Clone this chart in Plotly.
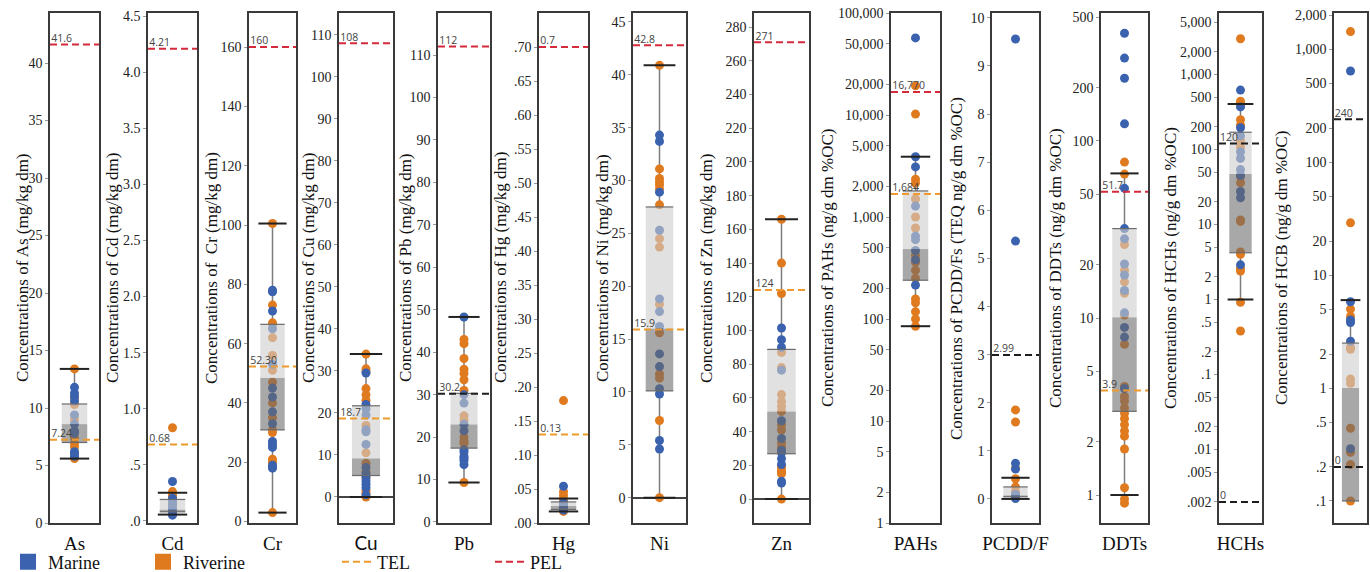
import plotly.graph_objects as go

# ---------------- data ----------------
CATEGORIES = ["As", "Cd", "Cr", "Cu", "Pb", "Hg", "Ni", "Zn", "PAHs", "PCDD/F", "DDTs", "HCHs", "HCB"]
Y_TITLES = [
    "Concentrations of As (mg/kg dm)",
    "Concentrations of Cd (mg/kg dm)",
    "Concentrations of  Cr (mg/kg dm)",
    "Concentrations of Cu (mg/kg dm)",
    "Concentrations of Pb (mg/kg dm)",
    "Concentrations of Hg (mg/kg dm)",
    "Concentrations of Ni (mg/kg dm)",
    "Concentrations of Zn (mg/kg dm)",
    "Concentrations of PAHs (ng/g dm %OC)",
    "Concentrations of PCDD/Fs (TEQ ng/g dm %OC)",
    "Concentrations of DDTs (ng/g dm %OC)",
    "Concentrations of HCHs (ng/g dm %OC)",
    "Concentrations of HCB (ng/g dm %OC)",
]

# box statistics: [lower whisker, Q1, median, Q3, upper whisker]
AS_BOX = [5.6, 7.0, 8.6, 10.35, 13.4]
CD_BOX = [0.055, 0.08, 0.10, 0.19, 0.25]
CR_BOX = [3, 30.9, 48.5, 66.5, 100.5]
CU_BOX = [0, 5.1, 9.2, 21.7, 34]
PB_BOX = [9.3, 17.4, 23, 30.3, 48.3]
HG_BOX = [0.017, 0.020, 0.025, 0.031, 0.036]
NI_BOX = [0, 10.1, 16.0, 27.5, 40.9]
ZN_BOX = [0, 26.9, 52, 88.8, 166]
PAH_BOX = [85, 240, 485, 1800, 3900]
PCDD_BOX = [0, 0.045, 0.076, 0.25, 0.44]
DDT_BOX = [1.0, 2.97, 10.1, 32, 65.6]
HCH_BOX = [1.0, 4.2, 47, 170, 404]
HCB_BOX = [None, 0.1, 1.0, 2.5, 6.0]

# sample values
AS_MARINE = [11.8, 11.3, 11.0, 10.6, 9.4, 8.6, 8.0, 7.8, 6.2, 6.0, 5.8]
AS_RIVERINE = [13.4, 10.9, 10.3, 9.0, 7.4, 6.9, 6.6, 5.6]
CD_MARINE = [0.35, 0.20, 0.17, 0.14, 0.11, 0.08, 0.05]
CD_RIVERINE = [0.83, 0.26, 0.23, 0.21, 0.15, 0.12, 0.06]
CR_MARINE = [78, 77.5, 71, 65, 53, 45, 42, 37, 33, 27, 26, 25, 19, 18.5, 18]
CR_RIVERINE = [100.5, 73, 67, 66.5, 62, 56, 51, 47, 40, 35, 31, 30, 21, 20, 3]
CU_MARINE = [29.5, 22, 21, 19.5, 16, 15.5, 12.5, 7, 5.5, 4.8, 3.8, 3, 2.2, 0.5]
CU_RIVERINE = [34, 30.5, 29.8, 25.8, 24.3, 23, 17, 10.5, 8, 6, 4.5, 1.5, 0.8, 0]
PB_MARINE = [48.3, 30, 28, 23, 21.5, 17, 16.5, 15.5, 15, 14.5, 13.5]
PB_RIVERINE = [43, 42, 38.5, 36, 35, 33.5, 31, 25, 24, 20, 19, 18.5, 9.3]
HG_MARINE = [0.054, 0.030, 0.028, 0.024, 0.022, 0.020, 0.019]
HG_RIVERINE = [0.18, 0.046, 0.040, 0.034, 0.025, 0.017]
NI_MARINE = [34.3, 33.7, 28.9, 25.3, 18.8, 17.6, 16.2, 13.6, 12.4, 10.3, 9.8, 5.4, 4.6]
NI_RIVERINE = [40.9, 31.1, 30.2, 29.9, 29.6, 29.2, 27.7, 24.5, 23.7, 18.3, 15.6, 11.7, 11.3, 7.3, 0]
ZN_MARINE = [101.5, 94.5, 90, 76.5, 46.5, 36, 29, 27.5, 24, 20.5, 10.5, 9.5]
ZN_RIVERINE = [166, 140, 122, 87, 78, 62, 58, 55, 52, 44, 41, 33.5, 31, 19, 17, 16, 15, 0]
PAH_MARINE = [57000, 3900, 3100, 1280, 650, 600, 470, 380, 215]
PAH_RIVERINE = [19300, 10200, 2350, 2150, 1500, 1000, 780, 420, 360, 300, 250, 157, 144, 118, 100, 85]
PCDD_MARINE = [9.56, 5.36, 0.74, 0.62, 0.10, 0.05, 0.01]
PCDD_RIVERINE = [1.85, 1.60, 0.64, 0.42, 0.25, 0.15]
DDT_MARINE = [406, 294, 226, 125, 54, 32, 28, 20.2, 17.5, 14.3, 10.7, 8.85, 7.8, 4.0]
DDT_RIVERINE = [76, 65, 26, 18.6, 16, 13.8, 10.4, 7.1, 4.1, 3.6, 3.4, 3.1, 2.9, 2.7, 2.5, 2.3, 2.15, 1.82, 1.1, 0.95, 0.9]
HCH_MARINE = [620, 370, 195, 152, 93, 76, 54, 45, 27.5, 22.7, 2.9]
HCH_RIVERINE = [3000, 440, 404, 250, 213, 132, 107, 44, 36, 11.5, 11, 4.3, 4.0, 2.6, 2.4, 0.92, 0.38]
HCB_MARINE = [640, 5.8, 4.0, 3.8, 2.6, 0.29]
HCB_RIVERINE = [1430, 29, 5.0, 4.3, 2.3, 2.2, 1.2, 1.1, 0.44, 0.27, 0.21, 0.1]

# guideline values: (kind, value, label)
AS_GUIDES = [("TEL", 7.24, "7.24"), ("PEL", 41.6, "41.6")]
CD_GUIDES = [("TEL", 0.68, "0.68"), ("PEL", 4.21, "4.21")]
CR_GUIDES = [("TEL", 52.30, "52.30"), ("PEL", 160, "160")]
CU_GUIDES = [("TEL", 18.7, "18.7"), ("PEL", 108, "108")]
PB_GUIDES = [("OTHER", 30.2, "30.2"), ("PEL", 112, "112")]
HG_GUIDES = [("TEL", 0.13, "0.13"), ("PEL", 0.7, "0.7")]
NI_GUIDES = [("TEL", 15.9, "15.9"), ("PEL", 42.8, "42.8")]
ZN_GUIDES = [("TEL", 124, "124"), ("PEL", 271, "271")]
PAH_GUIDES = [("TEL", 1684, "1,684"), ("PEL", 16770, "16,770")]
PCDD_GUIDES = [("OTHER", 2.99, "2.99")]
DDT_GUIDES = [("TEL", 3.9, "3.9"), ("PEL", 51.7, "51.7")]
HCH_GUIDES = [("OTHER", 120, "120"), ("OTHER", 0.002, "0")]
HCB_GUIDES = [("OTHER", 240, "240"), ("OTHER", 0.2, "0")]

# tick values and labels
AS_TICKS = [0, 5, 10, 15, 20, 25, 30, 35, 40]
AS_TICKTEXT = ["0", "5", "10", "15", "20", "25", "30", "35", "40"]
CD_TICKS = [0, 0.5, 1.0, 1.5, 2.0, 2.5, 3.0, 3.5, 4.0, 4.5]
CD_TICKTEXT = [".0", ".5", "1.0", "1.5", "2.0", "2.5", "3.0", "3.5", "4.0", "4.5"]
CR_TICKS = [0, 20, 40, 60, 80, 100, 120, 140, 160]
CR_TICKTEXT = ["0", "20", "40", "60", "80", "100", "120", "140", "160"]
CU_TICKS = [0, 10, 20, 30, 40, 50, 60, 70, 80, 90, 100, 110]
CU_TICKTEXT = ["0", "10", "20", "30", "40", "50", "60", "70", "80", "90", "100", "110"]
PB_TICKS = CU_TICKS
PB_TICKTEXT = CU_TICKTEXT
HG_TICKS = [0, 0.05, 0.10, 0.15, 0.20, 0.25, 0.30, 0.35, 0.40, 0.45, 0.50, 0.55, 0.60, 0.65, 0.70]
HG_TICKTEXT = [".00", ".05", ".10", ".15", ".20", ".25", ".30", ".35", ".40", ".45", ".50", ".55", ".60", ".65", ".70"]
NI_TICKS = [0, 5, 10, 15, 20, 25, 30, 35, 40, 45]
NI_TICKTEXT = ["0", "5", "10", "15", "20", "25", "30", "35", "40", "45"]
ZN_TICKS = [0, 20, 40, 60, 80, 100, 120, 140, 160, 180, 200, 220, 240, 260, 280]
ZN_TICKTEXT = ["0", "20", "40", "60", "80", "100", "120", "140", "160", "180", "200", "220", "240", "260", "280"]
PAH_TICKS = [1, 2, 5, 10, 20, 50, 100, 200, 500, 1000, 2000, 5000, 10000, 20000, 50000, 100000]
PAH_TICKTEXT = ["1", "2", "5", "10", "20", "50", "100", "200", "500", "1,000", "2,000", "5,000",
                "10,000", "20,000", "50,000", "100,000"]
PCDD_TICKS = [0, 1, 2, 3, 4, 5, 6, 7, 8, 9, 10]
PCDD_TICKTEXT = ["0", "1", "2", "3", "4", "5", "6", "7", "8", "9", "10"]
DDT_TICKS = [1, 2, 5, 10, 20, 50, 100, 200, 500]
DDT_TICKTEXT = ["1", "2", "5", "10", "20", "50", "100", "200", "500"]
HCH_TICKS = [0.002, 0.005, 0.01, 0.02, 0.05, 0.1, 0.2, 0.5, 1, 2, 5, 10, 20, 50, 100, 200, 500, 1000, 2000, 5000]
HCH_TICKTEXT = [".002", ".005", ".01", ".02", ".05", ".1", ".2", ".5", "1", "2", "5", "10", "20", "50",
                "100", "200", "500", "1,000", "2,000", "5,000"]
HCB_TICKS = [0.1, 0.2, 0.5, 1, 2, 5, 10, 20, 50, 100, 200, 500, 1000, 2000]
HCB_TICKTEXT = [".1", ".2", ".5", "1", "2", "5", "10", "20", "50", "100", "200", "500", "1,000", "2,000"]

BOXES = [AS_BOX, CD_BOX, CR_BOX, CU_BOX, PB_BOX, HG_BOX, NI_BOX, ZN_BOX, PAH_BOX, PCDD_BOX, DDT_BOX, HCH_BOX, HCB_BOX]
MARINE = [AS_MARINE, CD_MARINE, CR_MARINE, CU_MARINE, PB_MARINE, HG_MARINE, NI_MARINE, ZN_MARINE,
          PAH_MARINE, PCDD_MARINE, DDT_MARINE, HCH_MARINE, HCB_MARINE]
RIVERINE = [AS_RIVERINE, CD_RIVERINE, CR_RIVERINE, CU_RIVERINE, PB_RIVERINE, HG_RIVERINE, NI_RIVERINE,
            ZN_RIVERINE, PAH_RIVERINE, PCDD_RIVERINE, DDT_RIVERINE, HCH_RIVERINE, HCB_RIVERINE]
GUIDES = [AS_GUIDES, CD_GUIDES, CR_GUIDES, CU_GUIDES, PB_GUIDES, HG_GUIDES, NI_GUIDES, ZN_GUIDES,
          PAH_GUIDES, PCDD_GUIDES, DDT_GUIDES, HCH_GUIDES, HCB_GUIDES]
TICKS = [AS_TICKS, CD_TICKS, CR_TICKS, CU_TICKS, PB_TICKS, HG_TICKS, NI_TICKS, ZN_TICKS,
         PAH_TICKS, PCDD_TICKS, DDT_TICKS, HCH_TICKS, HCB_TICKS]
TICKTEXTS = [AS_TICKTEXT, CD_TICKTEXT, CR_TICKTEXT, CU_TICKTEXT, PB_TICKTEXT, HG_TICKTEXT, NI_TICKTEXT,
             ZN_TICKTEXT, PAH_TICKTEXT, PCDD_TICKTEXT, DDT_TICKTEXT, HCH_TICKTEXT, HCB_TICKTEXT]

# ---------------- layout / style ----------------
W, H = 1370, 572
TOP_PX, BOT_PX = 13, 523
FRAMES_PX = [(50, 99), (148, 197), (249, 296), (339, 393), (438, 490), (539, 588), (633, 686),
             (754, 809), (891, 940), (992, 1039), (1101, 1148), (1219, 1262), (1334, 1367)]
TITLE_X_PX = [22, 112, 211, 308, 405, 500, 602, 706, 827, 956, 1055, 1170, 1281]
AXIS_TYPES = ["linear"] * 8 + ["log", "linear", "log", "log", "log"]
Y_RANGES = [[0, 44.35], [-0.02, 4.53], [-0.5, 171.5], [-6.2, 115.2], [-0.24, 119.9], [0, 0.75],
            [-2.4, 45.85], [-14.2, 288.4], [0.0, 5.0], [-0.5, 10.1], [-0.158, 2.723],
            [-2.98, 3.82], [-1.195, 3.32]]
ZEROLINE = [False, False, False, True, False, False, True, True, False, False, False, False, False]

MARINE_COLOR = "#3A62AE"
RIVER_COLOR = "#E07A1F"
GUIDE_COLORS = {"TEL": "#EE9A2E", "PEL": "#D42A3C", "OTHER": "#1E1E1E"}
DASH = "7px,4px"
BOX_HALF = 0.52
CAP_HALF = 0.6
FRAME_COLOR = "#3a3a3a"
SERIF = "Liberation Serif"

fig = go.Figure()

for i, cat in enumerate(CATEGORIES):
    n = "" if i == 0 else str(i + 1)
    xa, ya = "x" + n, "y" + n
    low, q1, med, q3, high = BOXES[i]

    # whisker stem
    sx, sy = [], []
    if low is not None:
        sx += [0, 0, None]
        sy += [low, q1, None]
    sx += [0, 0]
    sy += [q3, high]
    fig.add_trace(go.Scatter(x=sx, y=sy, mode="lines", line=dict(color="#7c7c7c", width=1.5),
                             xaxis=xa, yaxis=ya, showlegend=False, hoverinfo="skip"))

    # sample points
    for vals, color, name in ((RIVERINE[i], RIVER_COLOR, "Riverine"), (MARINE[i], MARINE_COLOR, "Marine")):
        fig.add_trace(go.Scatter(x=[0] * len(vals), y=vals, mode="markers", name=name,
                                 marker=dict(color=color, size=9),
                                 xaxis=xa, yaxis=ya, showlegend=False))

    # box: dark lower half, light upper half (semi transparent over the points)
    fig.add_trace(go.Scatter(x=[-BOX_HALF, BOX_HALF, BOX_HALF, -BOX_HALF, -BOX_HALF],
                             y=[q1, q1, med, med, q1], mode="lines", fill="toself",
                             fillcolor="rgba(105,105,105,0.58)", line=dict(width=0),
                             xaxis=xa, yaxis=ya, showlegend=False, hoverinfo="skip"))
    fig.add_trace(go.Scatter(x=[-BOX_HALF, BOX_HALF, BOX_HALF, -BOX_HALF, -BOX_HALF],
                             y=[med, med, q3, q3, med], mode="lines", fill="toself",
                             fillcolor="rgba(205,205,205,0.6)", line=dict(width=0),
                             xaxis=xa, yaxis=ya, showlegend=False, hoverinfo="skip"))
    # box edges
    fig.add_trace(go.Scatter(x=[-BOX_HALF, BOX_HALF, None, -BOX_HALF, BOX_HALF],
                             y=[q1, q1, None, q3, q3], mode="lines",
                             line=dict(color="#6a6a6a", width=1.2),
                             xaxis=xa, yaxis=ya, showlegend=False, hoverinfo="skip"))
    # caps
    cx, cy = [], []
    if low is not None:
        cx += [-CAP_HALF, CAP_HALF, None]
        cy += [low, low, None]
    cx += [-CAP_HALF, CAP_HALF]
    cy += [high, high]
    fig.add_trace(go.Scatter(x=cx, y=cy, mode="lines", line=dict(color="#222222", width=2),
                             xaxis=xa, yaxis=ya, showlegend=False, hoverinfo="skip"))

    # guideline values
    for kind, val, lab in GUIDES[i]:
        fig.add_trace(go.Scatter(x=[-1, 1], y=[val, val], mode="lines",
                                 line=dict(color=GUIDE_COLORS[kind], width=2, dash=DASH),
                                 xaxis=xa, yaxis=ya, showlegend=False, hoverinfo="skip"))
        fig.add_trace(go.Scatter(x=[-0.95], y=[val], mode="text", text=[lab], textposition="top right",
                                 textfont=dict(family="Open Sans", size=10.5, color="#444444"),
                                 xaxis=xa, yaxis=ya, showlegend=False, hoverinfo="skip"))

    l, r = FRAMES_PX[i]
    fig.layout["xaxis" + n] = dict(
        domain=[l / W, r / W], range=[-1, 1], anchor=ya, tickvals=[0], ticktext=[cat], ticks="",
        showline=True, mirror=True, linecolor=FRAME_COLOR, linewidth=1.6, showgrid=False, zeroline=False,
        tickfont=dict(size=19, family=("Lato" if cat == "Cu" else SERIF), color="#111"),
        ticklabelstandoff=2, fixedrange=True)
    fig.layout["yaxis" + n] = dict(
        domain=[1 - BOT_PX / H, 1 - TOP_PX / H], anchor=xa, type=AXIS_TYPES[i], range=Y_RANGES[i],
        tickvals=TICKS[i], ticktext=TICKTEXTS[i], ticks="outside", ticklen=3, tickcolor="#999",
        showline=True, mirror=True, linecolor=FRAME_COLOR, linewidth=1.6, showgrid=False,
        zeroline=ZEROLINE[i], zerolinecolor="#444", zerolinewidth=1.5,
        tickfont=dict(size=14, family=SERIF, color="#222"), fixedrange=True)

    fig.add_annotation(text=Y_TITLES[i], x=TITLE_X_PX[i] / W, y=1 - ((TOP_PX + BOT_PX) / 2) / H,
                       xref="paper", yref="paper", textangle=-90, showarrow=False,
                       xanchor="center", yanchor="middle", font=dict(size=17, family=SERIF, color="#111"))

# legends
fig.add_trace(go.Scatter(x=[None], y=[None], mode="markers", name="Marine",
                         marker=dict(symbol="square", size=16, color=MARINE_COLOR), legend="legend"))
fig.add_trace(go.Scatter(x=[None], y=[None], mode="markers", name="Riverine",
                         marker=dict(symbol="square", size=16, color=RIVER_COLOR), legend="legend2"))
fig.add_trace(go.Scatter(x=[None], y=[None], mode="lines", name="TEL",
                         line=dict(color=GUIDE_COLORS["TEL"], width=2, dash=DASH), legend="legend3"))
fig.add_trace(go.Scatter(x=[None], y=[None], mode="lines", name="PEL",
                         line=dict(color=GUIDE_COLORS["PEL"], width=2, dash=DASH), legend="legend4"))

LEG_Y = 1 - 562 / H
def leg(xpx):
    return dict(x=xpx / W, y=LEG_Y, xanchor="left", yanchor="middle", orientation="h",
                bgcolor="rgba(0,0,0,0)", font=dict(size=18, family=SERIF, color="#111"))

fig.update_layout(
    width=W, height=H, margin=dict(l=0, r=0, t=0, b=0, autoexpand=False),
    paper_bgcolor="white", plot_bgcolor="white", showlegend=True,
    font=dict(family=SERIF, color="#222"),
    legend=leg(8), legend2=leg(143), legend3=leg(337), legend4=leg(490),
)

fig.write_html("out.html", config={"displayModeBar": False},
               post_script="document.body.style.margin='0';")
